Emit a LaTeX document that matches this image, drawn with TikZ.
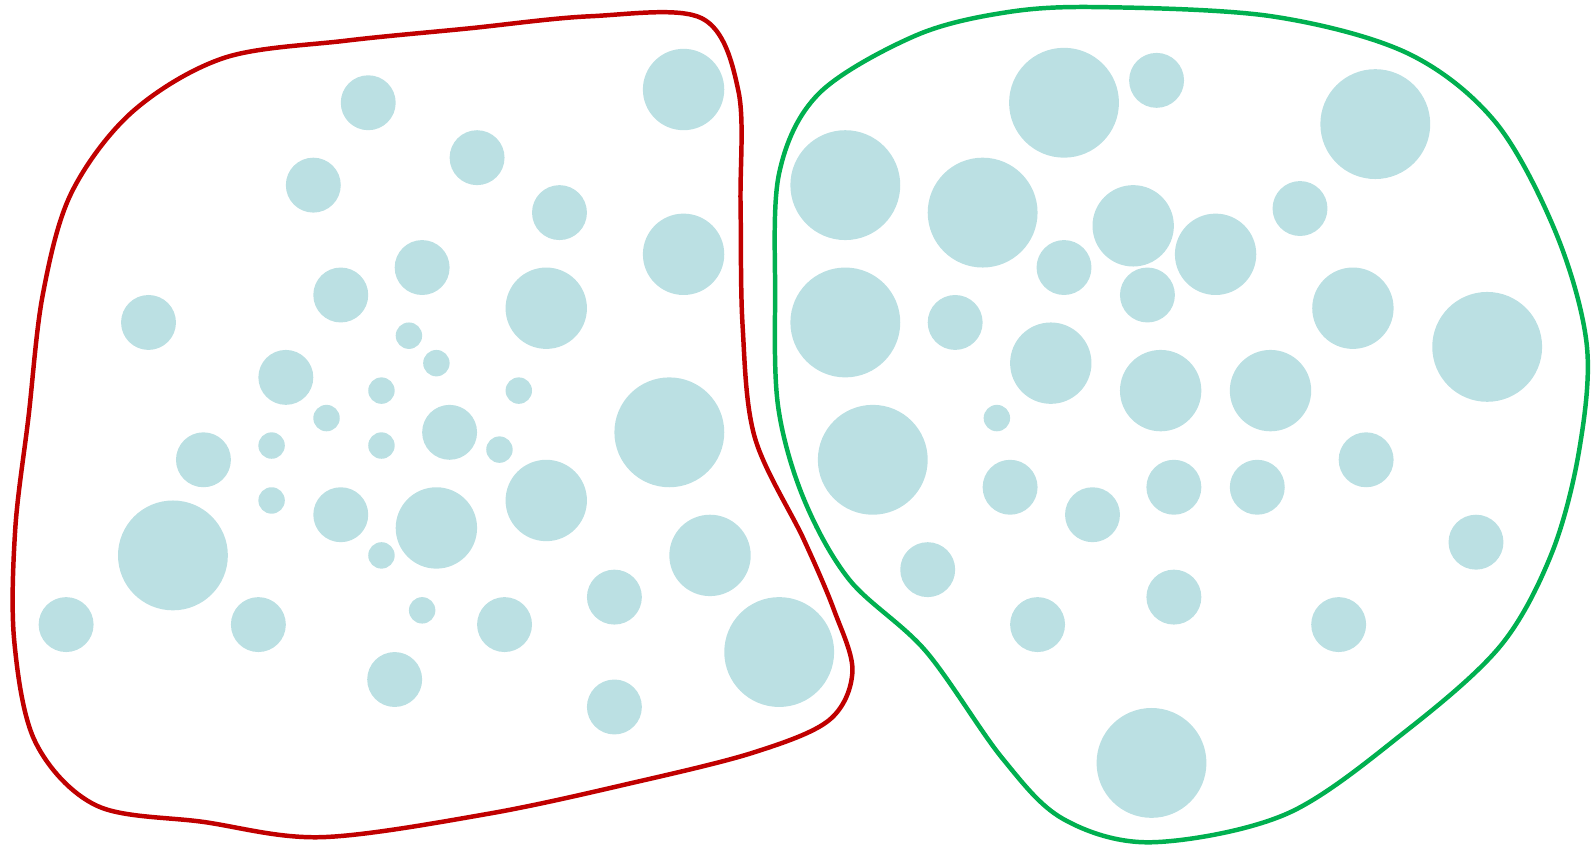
\documentclass[tikz,border=0pt]{standalone}
\usepackage{tikz}
\usepackage{xcolor}
\definecolor{cellfill}{HTML}{BBE0E3}
\definecolor{redline}{HTML}{C00000}
\definecolor{greenline}{HTML}{00B050}

\begin{document}
\begin{tikzpicture}[x=0.5pt,y=-0.5pt,
  cell/.style={fill=cellfill},
  border/.style={line width=2.2pt,line join=round}]
  \useasboundingbox (0,0) rectangle (1568,830);

  % Cells of the left group
  \foreach \cx/\cy/\r in {362/101/27, 672/88/40, 469/155/27, 308/182/27, 550/209/27,
      672/250/40, 415/263/27, 335/290/27, 537/303/40, 146/317/27, 402/330/13,
      429/357/13, 281/371/27, 375/384/13, 510/384/13, 658/425/54, 321/411/13,
      267/438/13, 375/438/13, 442/425/27, 200/452/27, 491/442/13, 267/492/13,
      335/506/27, 429/519/40, 537/492/40, 170/546/54, 375/546/13, 698/546/40,
      604/587/27, 65/614/27, 254/614/27, 415/600/13, 496/614/27, 766/641/54,
      388/668/27, 604/695/27}
    \fill[cell] (\cx,\cy) circle (\r);

  % Cells of the right group
  \foreach \cx/\cy/\r in {1046/101/54, 1137/79/27, 1352/122/54, 831/182/54, 966/209/54,
      1114/222/40, 1278/205/27, 1195/250/40, 1046/263/27, 1128/290/27, 831/317/54,
      939/317/27, 1330/303/40, 1462/341/54, 1033/357/40, 1141/384/40, 1249/384/40,
      980/411/13, 858/452/54, 993/479/27, 1154/479/27, 1236/479/27, 1343/452/27,
      1074/506/27, 1451/533/27, 912/560/27, 1020/614/27, 1154/587/27, 1316/614/27,
      1132/750/54}
    \fill[cell] (\cx,\cy) circle (\r);

  % Outlines
  \draw[border,redline] plot[smooth cycle,tension=0.55] coordinates {
    (580,16) (690,18) (726,90) (728,200) (730,320) (742,430) (790,530)
    (820,600) (838,660) (815,708) (740,740) (620,770) (480,800) (316,823)
    (200,808) (95,792) (35,730) (14,630) (15,520) (28,410) (42,290)
    (70,190) (130,110) (220,57) (340,40) (460,28)};
  \draw[border,greenline] plot[smooth cycle,tension=0.55] coordinates {
    (1082,7) (1250,16) (1383,52) (1470,120) (1530,230) (1560,340) (1552,445)
    (1525,545) (1475,635) (1383,718) (1265,800) (1132,828) (1045,805)
    (985,745) (910,640) (835,570) (790,490) (765,400) (762,290) (766,170)
    (805,92) (900,35) (990,12)};
\end{tikzpicture}
\end{document}
